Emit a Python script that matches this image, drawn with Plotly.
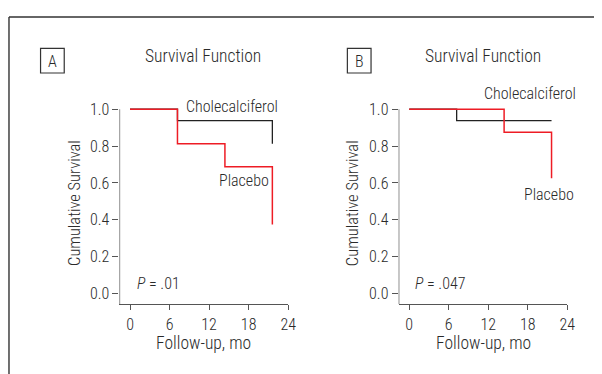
import plotly.graph_objects as go

# ---- data ----
x_ticks = [0, 6, 12, 18, 24]
y_ticks = [0.0, 0.2, 0.4, 0.6, 0.8, 1.0]
y_tick_labels = ["0.0", "0.2", "0.4", "0.6", "0.8", "1.0"]

a_chole_t = [0, 7.2, 21.6, 21.6]
a_chole_s = [1.0, 0.9375, 0.9375, 0.8125]
a_plac_t = [0, 7.2, 14.4, 21.6, 21.6]
a_plac_s = [1.0, 0.8125, 0.6875, 0.6875, 0.375]

b_chole_t = [0, 7.2, 21.6]
b_chole_s = [1.0, 0.9375, 0.9375]
b_plac_t = [0, 14.4, 21.6, 21.6]
b_plac_s = [1.0, 0.875, 0.875, 0.625]

panel_letters = ["A", "B"]
p_values = ["= .01", "= .047"]

# page body has an 8px margin, so the figure is drawn 8px in from the top-left
OFF = 8
W, H = 602 - OFF, 374 - OFF
FONT = "Roboto Condensed, Liberation Sans, sans-serif"
TXT = "#2a2a2a"
AX = "#555555"
BLACK = "#222222"
RED = "#ee1c25"

X_RANGE = [-1.6, 24]
Y_MIN = -0.057
Y_RANGE = [Y_MIN, 1.02]

fig = go.Figure()

fig.add_trace(go.Scatter(x=a_chole_t, y=a_chole_s, mode="lines", line=dict(color=BLACK, width=1.3, shape="hv"),
                         xaxis="x", yaxis="y", showlegend=False, hoverinfo="skip"))
fig.add_trace(go.Scatter(x=a_plac_t, y=a_plac_s, mode="lines", line=dict(color=RED, width=1.5, shape="hv"),
                         xaxis="x", yaxis="y", showlegend=False, hoverinfo="skip"))
fig.add_trace(go.Scatter(x=b_chole_t, y=b_chole_s, mode="lines", line=dict(color=BLACK, width=1.3, shape="hv"),
                         xaxis="x2", yaxis="y2", showlegend=False, hoverinfo="skip"))
fig.add_trace(go.Scatter(x=b_plac_t, y=b_plac_s, mode="lines", line=dict(color=RED, width=1.5, shape="hv"),
                         xaxis="x2", yaxis="y2", showlegend=False, hoverinfo="skip"))


def px(x):
    return (x - OFF) / W


def py(y):
    return 1 - (y - OFF) / H


ydom = [py(303), py(101)]

tickfont = dict(family=FONT, size=16, color=TXT, weight=300)
xaxis_common = dict(range=X_RANGE, tickvals=x_ticks, ticks="outside", ticklen=5, tickwidth=1.2,
                    tickcolor=AX, showline=True, linecolor=AX, linewidth=1.3, showgrid=False,
                    zeroline=False, tickfont=tickfont, fixedrange=True)
yaxis_common = dict(range=Y_RANGE, tickvals=y_ticks, ticktext=y_tick_labels, ticks="outside", ticklen=6,
                    tickwidth=1.2, tickcolor=AX, showline=False, showgrid=False, zeroline=False,
                    tickfont=tickfont, fixedrange=True)

fig.update_layout(
    width=W, height=H,
    margin=dict(l=0, r=0, t=0, b=0),
    paper_bgcolor="white", plot_bgcolor="white",
    xaxis=dict(domain=[px(121), px(292)], anchor="y", **xaxis_common),
    yaxis=dict(domain=ydom, anchor="x", **yaxis_common),
    xaxis2=dict(domain=[px(404), px(575)], anchor="y2", **xaxis_common),
    yaxis2=dict(domain=ydom, anchor="x2", **yaxis_common),
)

shapes = []
for xr, yr in (("x", "y"), ("x2", "y2")):
    shapes.append(dict(type="line", xref=xr, yref=yr, x0=X_RANGE[0], x1=X_RANGE[0], y0=Y_MIN, y1=1.0,
                       line=dict(color=AX, width=1.3)))
shapes.append(dict(type="line", xref="paper", yref="paper", x0=px(9), x1=1.01, y0=py(11), y1=py(11),
                   line=dict(color="#333333", width=1.4)))
shapes.append(dict(type="line", xref="paper", yref="paper", x0=px(9), x1=px(9), y0=py(11), y1=-0.01,
                   line=dict(color="#333333", width=1.4)))
for x0, x1 in ((41, 65), (352, 376)):
    shapes.append(dict(type="rect", xref="paper", yref="paper", x0=px(x0), x1=px(x1), y0=py(68), y1=py(43),
                       line=dict(color="#333333", width=1.2)))
fig.update_layout(shapes=shapes)

ann = []


def add(text, x, y, size=16, angle=0, xanchor="center"):
    ann.append(dict(text=text, x=px(x), y=py(y), xref="paper", yref="paper", showarrow=False,
                    xanchor=xanchor, yanchor="middle", textangle=angle,
                    font=dict(family=FONT, size=size, color=TXT, weight=300)))


add(panel_letters[0], 53, 56, size=16)
add("Survival Function", 206, 51, size=17.5)
add("Cholecalciferol", 235, 102, size=16)
add("Placebo", 247, 177, size=16)
add("<i>P</i> " + p_values[0], 137, 282, size=16, xanchor="left")
add("Cumulative Survival", 76, 200, size=16.5, angle=-90)
add("Follow-up, mo", 206, 342, size=17.5)

add(panel_letters[1], 364, 56, size=16)
add("Survival Function", 489.5, 51, size=17.5)
add("Cholecalciferol", 537, 89, size=16)
add("Placebo", 556.5, 192, size=16)
add("<i>P</i> " + p_values[1], 419, 282, size=16, xanchor="left")
add("Cumulative Survival", 358, 200, size=16.5, angle=-90)
add("Follow-up, mo", 489.5, 342, size=17.5)

fig.update_layout(annotations=ann)

fig.write_html("out.html")
